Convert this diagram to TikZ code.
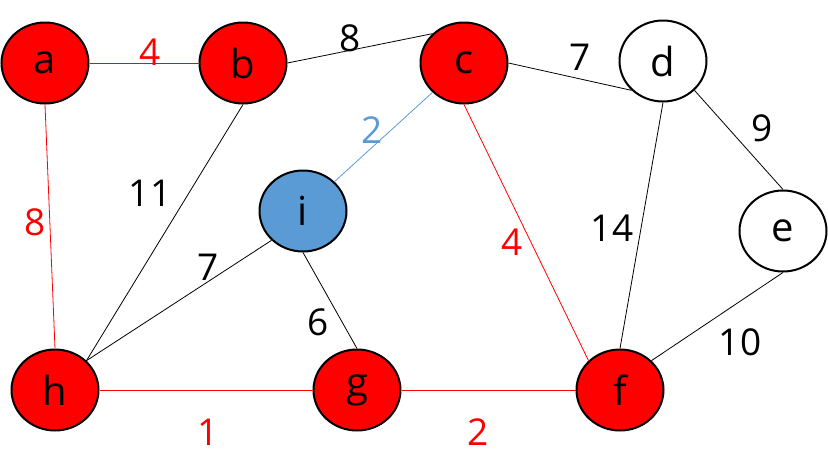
\documentclass[tikz,border=0pt]{standalone}
\usepackage{fontspec}
\setmainfont{Open Sans}
\usetikzlibrary{shapes.geometric}
\definecolor{Red}{HTML}{FF0000}
\definecolor{Blue}{HTML}{5B9BD5}

\begin{document}
\begin{tikzpicture}[x=1pt,y=-1pt,
    vertex/.style={ellipse,draw=black,line width=2pt,minimum width=87pt,minimum height=81pt,inner sep=0pt,font=\fontsize{40}{44}\selectfont},
    done/.style={vertex,fill=Red},
    cur/.style={vertex,fill=Blue},
    open/.style={vertex,fill=white},
    wt/.style={font=\fontsize{37}{42}\selectfont,inner sep=0pt},
    edge/.style={line width=0.8pt}]
    \useasboundingbox (0,0) rectangle (828,475);
    % vertices
    \node[done] (a) at (45,63) {a};
    \node[done] (b) at (243,63) {b};
    \node[done] (c) at (464,63) {c};
    \node[open] (d) at (663,61) {d};
    \node[open] (e) at (783,231) {e};
    \node[cur] (i) at (303,211) {i};
    \node[done] (h) at (55,390) {h};
    \node[done] (g) at (357,390) {g};
    \node[done] (f) at (620,390) {f};
    % edges
    \draw[edge,Red] (a.east) -- (b.west);
    \draw[edge] (b.east) -- (c.north west);
    \draw[edge] (c.east) -- (d.south west);
    \draw[edge] (d.south east) -- (e.north);
    \draw[edge] (d.south) -- (f.north);
    \draw[edge] (e.south) -- (f.north east);
    \draw[edge,Red] (c.south) -- (f.north west);
    \draw[edge,Blue] (c.south west) -- (i.north east);
    \draw[edge] (b.south) -- (h.north east);
    \draw[edge,Red] (a.south) -- (h.north);
    \draw[edge] (i.south west) -- (h.north east);
    \draw[edge] (i.south) -- (g.north);
    \draw[edge,Red] (h.east) -- (g.west);
    \draw[edge,Red] (g.east) -- (f.west);
    % weights
    \node[wt,text=Red] (wab) at (150,52) {4};
    \node[wt] (wbc) at (350,38) {8};
    \node[wt] (wcd) at (580,57) {7};
    \node[wt] (wde) at (762,128) {9};
    \node[wt,text=Blue] (wci) at (372,130) {2};
    \node[wt] (wbh) at (150,193) {11};
    \node[wt,text=Red] (wah) at (35,222) {8};
    \node[wt] (wdf) at (612,228) {14};
    \node[wt,text=Red] (wcf) at (512,242) {4};
    \node[wt] (wih) at (208,267) {7};
    \node[wt] (wig) at (318,322) {6};
    \node[wt] (wef) at (740,342) {10};
    \node[wt,text=Red] (whg) at (208,432) {1};
    \node[wt,text=Red] (wgf) at (478,432) {2};
\end{tikzpicture}
\end{document}
